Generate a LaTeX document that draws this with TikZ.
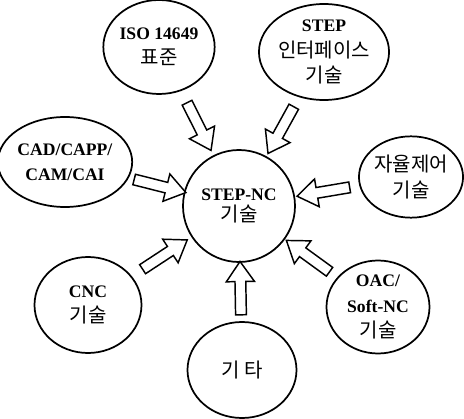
\documentclass[tikz,border=0pt]{standalone}
\usepackage{fontspec}
\setmainfont{Liberation Serif}
\newfontfamily\krfont{Noto Sans CJK KR}
\newcommand\kr{\krfont\fontsize{15}{19}\selectfont}
\usetikzlibrary{shapes.geometric,shapes.arrows}
\tikzset{
  topic/.style={ellipse,draw,line width=1.3pt,inner sep=0pt,align=center,
    font=\fontsize{13.2}{19}\selectfont},
  feed/.style={single arrow,draw,fill=white,line width=1.1pt,sloped,allow upside down,
    inner sep=0pt,inner ysep=3.5pt,single arrow head extend=6.5pt,
    single arrow tip angle=70,minimum height=40pt}
}

\begin{document}
\begin{tikzpicture}[x=0.75pt,y=0.75pt]
  \useasboundingbox (0,0) rectangle (464,418);

  % centre
  \node[topic,minimum width=84pt,minimum height=84pt] (nc) at (239,212)
    {\textbf{STEP-NC}\\[-3pt]{\kr 기술}};

  % surrounding fields
  \node[topic,minimum width=76.5pt,minimum height=70.5pt] (iso) at (159,371)
    {\textbf{ISO 14649}\\{\kr 표준}};
  \node[topic,minimum width=76.5pt,minimum height=72pt] (stepif) at (324,366)
    {\textbf{STEP}\\{\kr 인터페이스}\\{\kr 기술}};
  \node[topic,minimum width=82.5pt,minimum height=67.5pt] (cad) at (65,256)
    {\textbf{CAD/CAPP/}\\\textbf{CAM/CAI}};
  \node[topic,minimum width=72.75pt,minimum height=61pt] (auto) at (411,241)
    {{\kr 자율제어}\\{\kr 기술}};
  \node[topic,minimum width=80.25pt,minimum height=72pt] (cnc) at (88,113)
    {\textbf{CNC}\\{\kr 기술}};
  \node[topic,minimum width=81.75pt,minimum height=72pt] (etc) at (242,48)
    {{\kr 기 타}};
  \node[topic,minimum width=77.25pt,minimum height=69.75pt] (oac) at (378,111)
    {\textbf{OAC/}\\\textbf{Soft-NC}\\{\kr 기술}};

  % block arrows into the centre
  \foreach \src in {iso,stepif,cad,auto,cnc,etc,oac}
    \path (\src) -- node[feed] {} (nc);
\end{tikzpicture}
\end{document}
